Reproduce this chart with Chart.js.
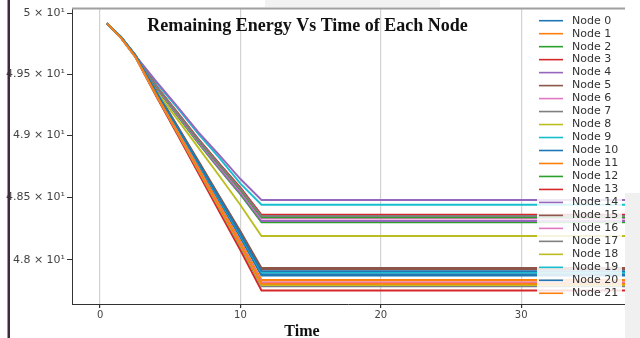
<!DOCTYPE html>
<html>
<head>
<meta charset="utf-8">
<script src="https://cdn.jsdelivr.net/npm/chart.js@4.4.0/dist/chart.umd.min.js"></script>
<style>
  html, body { margin: 0; padding: 0; background: #fff; }
  canvas { display: block; }
</style>
</head>
<body>
<canvas id="grafico" width="640" height="338"></canvas>
<script>
// tempo (s) e energia restante de cada nó
const tempos = [0.5, 1.5, 2.5, 4, 5.5, 7, 8.5, 10, 11.5, 40];

const node0  = [49.917, 49.802, 49.653, 49.348, 49.055, 48.761, 48.467, 48.177, 47.875, 47.875];
const node1  = [49.917, 49.800, 49.650, 49.339, 49.041, 48.741, 48.443, 48.147, 47.840, 47.840];
const node2  = [49.917, 49.800, 49.647, 49.386, 49.161, 48.936, 48.726, 48.523, 48.300, 48.300];
const node3  = [49.917, 49.796, 49.641, 49.318, 49.008, 48.696, 48.384, 48.076, 47.757, 47.757];
const node4  = [49.917, 49.800, 49.648, 49.389, 49.166, 48.942, 48.733, 48.532, 48.310, 48.310];
const node5  = [49.917, 49.805, 49.659, 49.363, 49.079, 48.794, 48.509, 48.228, 47.935, 47.935];
const node6  = [49.917, 49.800, 49.650, 49.395, 49.175, 48.954, 48.748, 48.550, 48.330, 48.330];
const node7  = [49.917, 49.797, 49.645, 49.326, 49.021, 48.714, 48.408, 48.104, 47.790, 47.790];
const node8  = [49.917, 49.798, 49.646, 49.329, 49.025, 48.719, 48.415, 48.113, 47.800, 47.800];
const node9  = [49.917, 49.800, 49.652, 49.430, 49.225, 49.012, 48.818, 48.610, 48.440, 48.440];
const node10 = [49.917, 49.802, 49.654, 49.350, 49.059, 48.766, 48.474, 48.185, 47.885, 47.885];
const node11 = [49.917, 49.800, 49.649, 49.338, 49.039, 48.739, 48.439, 48.143, 47.835, 47.835];
const node12 = [49.917, 49.800, 49.651, 49.398, 49.180, 48.960, 48.756, 48.559, 48.340, 48.340];
const node13 = [49.917, 49.800, 49.653, 49.404, 49.189, 48.972, 48.771, 48.577, 48.360, 48.360];
const node14 = [49.917, 49.800, 49.654, 49.441, 49.237, 49.027, 48.840, 48.647, 48.478, 48.478];
const node15 = [49.917, 49.804, 49.658, 49.360, 49.075, 48.788, 48.502, 48.219, 47.925, 47.925];
const node16 = [49.917, 49.799, 49.648, 49.334, 49.033, 48.730, 48.429, 48.130, 47.820, 47.820];
const node17 = [49.917, 49.800, 49.652, 49.401, 49.184, 48.966, 48.763, 48.568, 48.350, 48.350];
const node18 = [49.917, 49.800, 49.650, 49.360, 49.132, 48.901, 48.671, 48.438, 48.190, 48.190];
const node19 = [49.917, 49.803, 49.656, 49.354, 49.065, 48.774, 48.485, 48.198, 47.900, 47.900];
const node20 = [49.917, 49.803, 49.657, 49.356, 49.069, 48.780, 48.492, 48.206, 47.910, 47.910];
const node21 = [49.917, 49.798, 49.647, 49.331, 49.029, 48.725, 48.422, 48.121, 47.810, 47.810];

const nodes = [node0, node1, node2, node3, node4, node5, node6, node7, node8, node9, node10,
  node11, node12, node13, node14, node15, node16, node17, node18, node19, node20, node21];

const xTickVals = [0, 10, 20, 30];
const yTickVals = [48, 48.5, 49, 49.5, 50];
const yTickLabels = ['4.8 × 10¹', '4.85 × 10¹', '4.9 × 10¹', '4.95 × 10¹', '5 × 10¹'];

// cores padrão do matplotlib (tab10)
const cores = ['#1f77b4', '#ff7f0e', '#2ca02c', '#d62728', '#9467bd',
  '#8c564b', '#e377c2', '#7f7f7f', '#bcbd22', '#17becf'];

const decoracao = {
  id: 'decoracao',
  beforeDraw(chart) {
    const ctx = chart.ctx;
    ctx.save();
    ctx.fillStyle = '#fff';
    ctx.fillRect(0, 0, chart.width, chart.height);
    ctx.fillStyle = '#f2f2f2';
    ctx.fillRect(265, 0, 175, 7);
    ctx.restore();
  },
  afterDatasetsDraw(chart) {
    // legenda por cima das linhas, com fundo semi-transparente
    const ctx = chart.ctx;
    ctx.save();
    ctx.fillStyle = 'rgba(255,255,255,0.85)';
    ctx.fillRect(537, 10, 85, 292);
    ctx.font = '11px "DejaVu Sans"';
    ctx.textBaseline = 'middle';
    chart.data.datasets.forEach((ds, i) => {
      const y = 20.7 + i * 12.98;
      ctx.strokeStyle = ds.borderColor;
      ctx.lineWidth = 1.6;
      ctx.beginPath();
      ctx.moveTo(539, y);
      ctx.lineTo(563, y);
      ctx.stroke();
      ctx.fillStyle = '#333';
      ctx.fillText(ds.label, 572, y);
    });
    ctx.restore();
  },
  afterDraw(chart) {
    const ctx = chart.ctx;
    const area = chart.chartArea;
    ctx.save();
    // linha superior do quadro
    ctx.strokeStyle = '#a0a0a0';
    ctx.lineWidth = 2;
    ctx.beginPath();
    ctx.moveTo(area.left, area.top);
    ctx.lineTo(area.right, area.top);
    ctx.stroke();
    // painel cinza na direita
    ctx.fillStyle = '#f0f0f0';
    ctx.fillRect(625, 193, 15, 145);
    // barra escura na esquerda
    ctx.fillStyle = '#3d2a3a';
    ctx.fillRect(7.5, 0, 2.5, chart.height);
    // títulos
    ctx.fillStyle = '#111';
    ctx.textAlign = 'center';
    ctx.textBaseline = 'alphabetic';
    ctx.font = 'bold 18px "Liberation Serif"';
    ctx.fillText('Remaining Energy Vs Time of Each Node', 307.5, 31);
    ctx.font = 'bold 16px "Liberation Serif"';
    ctx.fillText('Time', 302, 336);
    ctx.restore();
  }
};

new Chart(document.getElementById('grafico'), {
  type: 'line',
  data: {
    datasets: nodes.map((serie, i) => ({
      label: 'Node ' + i,
      data: tempos.map((t, k) => ({ x: t, y: serie[k] })),
      borderColor: cores[i % 10],
      backgroundColor: cores[i % 10],
      borderWidth: 1.9,
      pointRadius: 0,
      fill: false,
      order: -i
    }))
  },
  options: {
    responsive: false,
    animation: false,
    devicePixelRatio: 1,
    layout: { padding: { top: 8, right: 15, left: 0, bottom: 0 } },
    plugins: {
      legend: { display: false },
      tooltip: { enabled: false },
      title: { display: false }
    },
    scales: {
      x: {
        type: 'linear',
        min: -2,
        max: 37.4,
        afterBuildTicks: s => { s.ticks = xTickVals.map(v => ({ value: v })); },
        afterFit: s => { s.height = 34; },
        grid: { color: '#d2d2d2', lineWidth: 1.2, tickColor: '#333', tickLength: 4 },
        border: { color: '#333', width: 1 },
        ticks: { padding: 1, color: '#444', font: { family: 'DejaVu Sans', size: 10 }, maxRotation: 0 }
      },
      y: {
        type: 'logarithmic',
        min: 47.65,
        max: 50.04,
        afterBuildTicks: s => { s.ticks = yTickVals.map(v => ({ value: v })); },
        afterFit: s => { s.width = 72; },
        grid: { drawOnChartArea: false, tickColor: '#333', tickLength: 5 },
        border: { color: '#333', width: 1 },
        ticks: {
          autoSkip: false,
          padding: 2,
          color: '#444',
          font: { family: 'DejaVu Sans', size: 11 },
          callback: v => yTickLabels[yTickVals.indexOf(v)]
        }
      }
    }
  },
  plugins: [decoracao]
});
</script>
</body>
</html>
